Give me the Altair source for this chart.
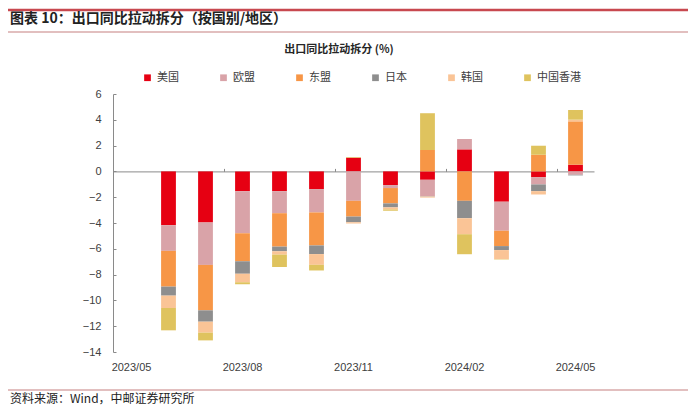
import altair as alt
import pandas as pd

# ---- data ----
months_all = ["2023/05", "2023/06", "2023/07", "2023/08", "2023/09", "2023/10",
              "2023/11", "2023/12", "2024/01", "2024/02", "2024/03", "2024/04", "2024/05"]
data_months = months_all[1:]
label_months = ["2023/05", "2023/08", "2023/11", "2024/02", "2024/05"]

series = ["美国", "欧盟", "东盟", "日本", "韩国", "中国香港"]
colors = ["#E60012", "#D9A3A8", "#F79646", "#8E8E8E", "#FAC496", "#DFC35E"]

us    = [-4.17, -3.96, -1.53, -1.53, -1.37, 1.06, -1.06, -0.65, 1.71, -2.35, -0.44, 0.52]
eu    = [-1.99, -3.29, -3.26, -1.71, -1.81, -2.28, -0.23, -1.27, 0.80, -2.25, -0.57, -0.26]
asean = [-2.77, -3.52, -2.17, -2.59, -2.56, -1.22, -1.19, 1.66, -2.28, -1.19, 1.29, 3.36]
japan = [-0.70, -0.88, -0.98, -0.36, -0.67, -0.44, -0.31, -0.03, -1.35, -0.31, -0.52, -0.05]
korea = [-0.96, -0.85, -0.65, -0.26, -0.83, -0.10, -0.16, -0.08, -1.24, -0.70, -0.26, 0.13]
hk    = [-1.73, -0.60, -0.16, -0.96, -0.44, 0.05, -0.10, 2.85, -1.55, -0.03, 0.70, 0.75]

y_ticks = list(range(-14, 7, 2))
y_min, y_max = -14, 6
boundary_ticks = [3, 6, 9, 12]  # category boundaries (quarter separators)

header_text = "图表 10：出口同比拉动拆分（按国别/地区）"
chart_title = "出口同比拉动拆分 (%)"
source_text = "资料来源：Wind，中邮证券研究所"

# ---- build table ----
all_vals = [us, eu, asean, japan, korea, hk]
rows = []
for si, (name, vals) in enumerate(zip(series, all_vals)):
    for m, v in zip(data_months, vals):
        rows.append({"month": m, "series": name, "idx": si, "value": v})
df = pd.DataFrame(rows)

W, H = 481, 258
zero_px = H * y_max / (y_max - y_min)
sans = "Liberation Sans"
cjk = "Noto Sans CJK SC"
lab_col = "#404040"
axis_col = "#8A8A8A"

bars = alt.Chart(df).mark_bar().encode(
    x=alt.X("month:N",
            scale=alt.Scale(domain=months_all, paddingInner=0.6, paddingOuter=0.3),
            axis=alt.Axis(title=None, values=label_months, labelAngle=0, domain=False,
                          ticks=False, tickSize=0, labelPadding=9, labelFont=sans,
                          labelFontSize=11, labelColor=lab_col, orient="bottom")),
    y=alt.Y("value:Q", stack="zero",
            scale=alt.Scale(domain=[y_min, y_max], nice=False, zero=False),
            axis=alt.Axis(title=None, values=y_ticks, domain=False, ticks=False,
                          tickSize=0, grid=False, labelPadding=12, labelFont=sans,
                          labelFontSize=11, labelColor=lab_col, orient="left")),
    color=alt.Color("series:N",
                    scale=alt.Scale(domain=series, range=colors),
                    legend=alt.Legend(title=None, orient="none", legendX=29, legendY=-22,
                                      direction="horizontal", columns=6, gridAlign="all",
                                      columnPadding=17, symbolType="square", symbolSize=45,
                                      labelFont=cjk, labelFontSize=11, labelColor=lab_col,
                                      labelOffset=4)),
    order=alt.Order("idx:Q", sort="ascending"),
)

guide_df = pd.DataFrame({"b": [0, 13], "v": [y_min, y_max]})
guides = alt.Chart(guide_df).mark_point(opacity=0).encode(
    x=alt.X("b:Q", scale=alt.Scale(domain=[0, 13], nice=False, zero=False),
            axis=alt.Axis(title=None, orient="top", offset=-zero_px, values=boundary_ticks,
                          labels=False, domain=True, domainColor=axis_col, ticks=True,
                          tickSize=3, tickColor=axis_col, grid=False)),
    y=alt.Y("v:Q", scale=alt.Scale(domain=[y_min, y_max], nice=False, zero=False),
            axis=alt.Axis(title=None, orient="right", offset=-W, values=y_ticks,
                          labels=False, domain=True, domainColor=axis_col, ticks=True,
                          tickSize=3, tickColor=axis_col, grid=False)),
)

def text_layer(txt, x, y, size, weight="normal", align="left", color="#222222"):
    return alt.Chart(pd.DataFrame({"t": [txt]})).mark_text(
        font=cjk, fontSize=size, fontWeight=weight, align=align, baseline="middle",
        color=color).encode(text="t:N", x=alt.value(x), y=alt.value(y))

def hline(y, color, width):
    return alt.Chart(pd.DataFrame({"k": [0]})).mark_rule(color=color, strokeWidth=width).encode(
        x=alt.value(-105), x2=alt.value(575), y=alt.value(y))

chart = alt.layer(
    hline(-84, "#C8484F", 2.5),
    hline(-62, "#D9AAAA", 1.5),
    hline(296, "#D9AAAA", 1.5),
    text_layer(header_text, -103, -75, 14, "bold"),
    text_layer(chart_title, 226, -44, 11, "bold", "center", "#262626"),
    text_layer(source_text, -103, 305, 12),
    bars,
    guides,
).resolve_scale(x="independent", y="independent").properties(
    width=W, height=H,
    autosize=alt.AutoSizeParams(type="none"),
    padding={"left": 105, "top": 86, "right": 98, "bottom": 56},
    background="white",
).configure_view(stroke=None)

chart.save("out.html", embed_options={"renderer": "svg", "actions": False})
